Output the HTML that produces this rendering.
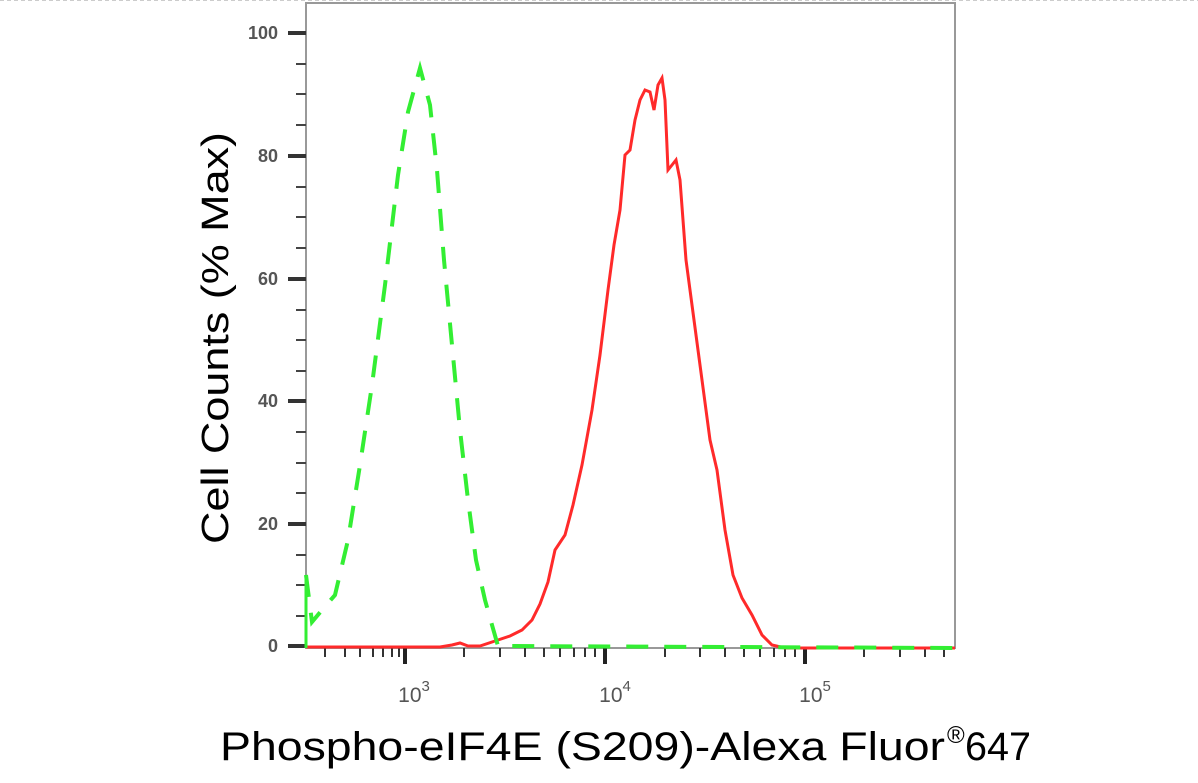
<!DOCTYPE html>
<html><head><meta charset="utf-8"><style>
html,body{margin:0;padding:0;background:#fff;}
svg{display:block}
</style></head><body>
<svg width="1198" height="783" viewBox="0 0 1198 783" xmlns="http://www.w3.org/2000/svg" font-family="Liberation Sans, sans-serif">
<line x1="0" y1="0.5" x2="1198" y2="0.5" stroke="#ccc" stroke-dasharray="4,3"/>
<rect x="306" y="3" width="649" height="645" fill="none" stroke="#999" stroke-width="2"/>
<g stroke="#333" stroke-width="4">
<line x1="288" y1="33" x2="306" y2="33"/><line x1="288" y1="156" x2="306" y2="156"/><line x1="288" y1="279" x2="306" y2="279"/><line x1="288" y1="401" x2="306" y2="401"/><line x1="288" y1="524" x2="306" y2="524"/><line x1="288" y1="646" x2="306" y2="646"/>
</g>
<g stroke="#444" stroke-width="2">
<line x1="296" y1="64" x2="306" y2="64"/><line x1="296" y1="94" x2="306" y2="94"/><line x1="296" y1="125" x2="306" y2="125"/>
<line x1="296" y1="187" x2="306" y2="187"/><line x1="296" y1="217" x2="306" y2="217"/><line x1="296" y1="248" x2="306" y2="248"/>
<line x1="296" y1="310" x2="306" y2="310"/><line x1="296" y1="340" x2="306" y2="340"/><line x1="296" y1="371" x2="306" y2="371"/>
<line x1="296" y1="432" x2="306" y2="432"/><line x1="296" y1="463" x2="306" y2="463"/><line x1="296" y1="493" x2="306" y2="493"/>
<line x1="296" y1="555" x2="306" y2="555"/><line x1="296" y1="585" x2="306" y2="585"/><line x1="296" y1="616" x2="306" y2="616"/>
</g>
<g font-size="18" font-weight="bold" fill="#555" text-anchor="end">
<text x="278" y="39">100</text><text x="278" y="162">80</text><text x="278" y="285">60</text><text x="278" y="407">40</text><text x="278" y="530">20</text><text x="278" y="652">0</text>
</g>
<g stroke="#333" stroke-width="2">
<line x1="325" y1="648" x2="325" y2="657"/><line x1="345" y1="648" x2="345" y2="657"/><line x1="360" y1="648" x2="360" y2="657"/><line x1="373" y1="648" x2="373" y2="657"/><line x1="383" y1="648" x2="383" y2="657"/><line x1="392" y1="648" x2="392" y2="657"/><line x1="399" y1="648" x2="399" y2="657"/>
<line x1="464" y1="648" x2="464" y2="657"/><line x1="500" y1="648" x2="500" y2="657"/><line x1="525" y1="648" x2="525" y2="657"/><line x1="544" y1="648" x2="544" y2="657"/><line x1="560" y1="648" x2="560" y2="657"/><line x1="574" y1="648" x2="574" y2="657"/><line x1="585" y1="648" x2="585" y2="657"/><line x1="595" y1="648" x2="595" y2="657"/>
<line x1="665" y1="648" x2="665" y2="657"/><line x1="700" y1="648" x2="700" y2="657"/><line x1="725" y1="648" x2="725" y2="657"/><line x1="744" y1="648" x2="744" y2="657"/><line x1="760" y1="648" x2="760" y2="657"/><line x1="774" y1="648" x2="774" y2="657"/><line x1="785" y1="648" x2="785" y2="657"/><line x1="795" y1="648" x2="795" y2="657"/>
<line x1="864" y1="648" x2="864" y2="657"/><line x1="900" y1="648" x2="900" y2="657"/><line x1="925" y1="648" x2="925" y2="657"/><line x1="944" y1="648" x2="944" y2="657"/>
</g>
<g stroke="#222" stroke-width="4">
<line x1="405" y1="648" x2="405" y2="664"/><line x1="605" y1="648" x2="605" y2="664"/><line x1="805" y1="648" x2="805" y2="664"/>
</g>
<g font-size="21" fill="#555" text-anchor="middle">
<text x="414" y="702">10<tspan font-size="15" dy="-11">3</tspan></text>
<text x="615" y="702">10<tspan font-size="15" dy="-11">4</tspan></text>
<text x="815" y="702">10<tspan font-size="15" dy="-11">5</tspan></text>
</g>
<path d="M306,647 L440,647 L452,645 L460,643 L468,646 L480,646 L495,641 L510,636 L522,630 L532,620 L540,604 L548,582 L555,550 L565,535 L573,505 L582,465 L592,410 L600,355 L608,290 L614,245 L620,210 L625,155 L630,150 L635,120 L640,100 L645,90 L650,92 L654,110 L658,85 L662,78 L665,100 L668,170 L672,165 L676,160 L680,180 L686,260 L694,320 L702,380 L710,440 L717,470 L725,530 L733,575 L742,598 L752,615 L762,635 L772,645 L785,648 L955,648" fill="none" stroke="#ff2a2a" stroke-width="3"/>
<path d="M306,575 L312,622 L322,610 L335,595 L348,540 L360,465 L372,385 L385,285 L398,175 L408,112 L420,68 L430,105 L437,170 L444,260 L452,345 L460,430 L468,500 L476,560 L485,600 L492,625 L498,646 L955,648" fill="none" stroke="#33ee33" stroke-width="4" stroke-dasharray="22,16"/>
<line x1="306" y1="575" x2="306" y2="648" stroke="#33ee33" stroke-width="3"/>
<text transform="translate(228,338) rotate(-90)" font-size="38" text-anchor="middle" fill="#000" textLength="412" lengthAdjust="spacingAndGlyphs">Cell Counts (% Max)</text>
<text x="220" y="760" font-size="40" fill="#000" textLength="725" lengthAdjust="spacingAndGlyphs">Phospho-eIF4E (S209)-Alexa Fluor</text>
<text x="947" y="743" font-size="24" fill="#000">®</text>
<text x="965" y="760" font-size="40" fill="#000" textLength="66" lengthAdjust="spacingAndGlyphs">647</text>
</svg>
</body></html>
